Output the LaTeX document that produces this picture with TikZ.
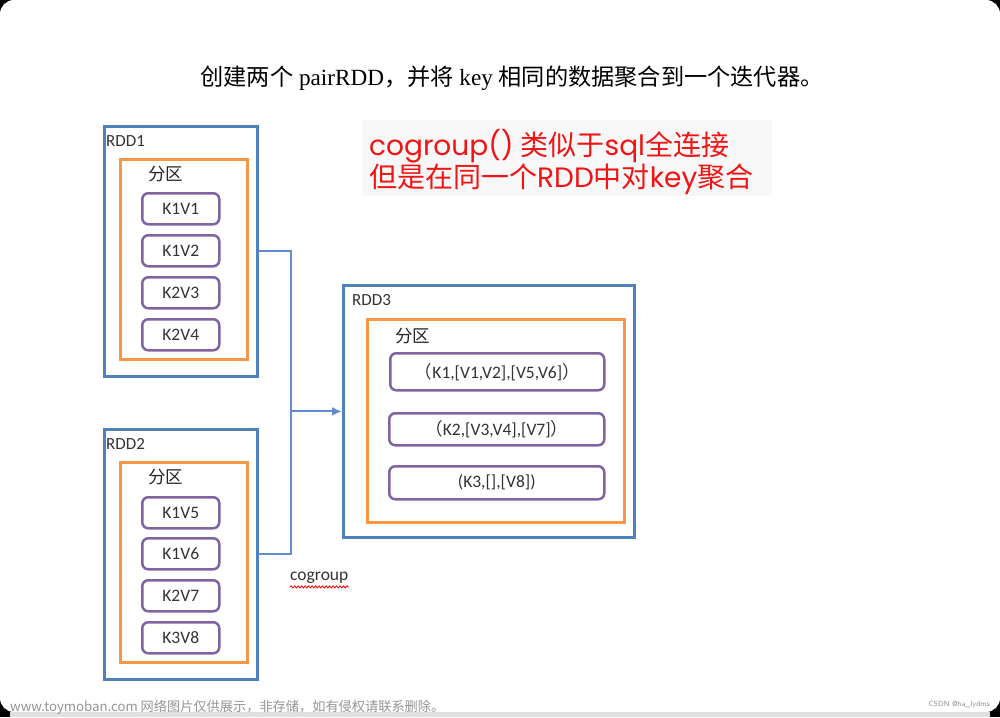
\documentclass[tikz,border=0pt]{standalone}
\usepackage{fontspec}
\setmainfont{Liberation Serif}
\newfontfamily\cjk{Noto Sans CJK SC}
\newfontfamily\calib{Carlito}
\newfontfamily\geo{Poppins}
\usetikzlibrary{arrows.meta,decorations.pathmorphing}
\definecolor{rddblue}{RGB}{79,129,189}
\definecolor{connblue}{RGB}{95,140,205}
\definecolor{partorange}{RGB}{247,150,70}
\definecolor{itempurple}{RGB}{128,100,162}
\definecolor{redtxt}{RGB}{240,20,20}
\definecolor{notebg}{RGB}{248,248,248}
\definecolor{wmgrey}{RGB}{150,150,150}
\tikzset{
  rddbox/.style={draw=rddblue, line width=2.8pt, anchor=north west, inner sep=0pt},
  partbox/.style={draw=partorange, line width=2.8pt, anchor=north west, inner sep=0pt},
  itembox/.style={draw=itempurple, line width=2.5pt, rounded corners=6pt, anchor=north west, inner sep=0pt, font=\calib\fontsize{17.5}{19}\selectfont, text=black!80},
  rddlabel/.style={anchor=north west, inner sep=0pt, font=\calib\fontsize{17}{19}\selectfont, text=black!80},
  partlabel/.style={anchor=north west, inner sep=0pt, font=\cjk\fontsize{17.5}{19}\selectfont, text=black!85},
  conn/.style={draw=connblue, line width=2pt},
}
\begin{document}
\begin{tikzpicture}[x=1pt,y=-1pt]
\useasboundingbox (0,0) rectangle (1000,717);
% frame
\fill[black] (0,0) rectangle (1000,717);
\fill[white, rounded corners=14pt] (0,0) rectangle (1000,712);
\fill[black!12] (10,712) rectangle (990,717);
% title
\node[font=\fontsize{23.2}{27}\selectfont] (title) at (512,78) {{\cjk 创建两个} pairRDD{\cjk ，并将} key {\cjk 相同的数据聚合到一个迭代器。}};
% red note
\fill[notebg] (362,120) rectangle (772,196);
\node[anchor=north west, inner sep=0pt, text=redtxt, font=\fontsize{28}{30}\selectfont, align=left] (note) at (369,129)
  {{\geo cogroup()} {\cjk 类似于}{\geo sql}{\cjk 全连接}\\{\cjk 但是在同一个}{\geo RDD}{\cjk 中对}{\geo key}{\cjk 聚合}};
% RDD1
\node[rddbox, minimum width=153pt, minimum height=250pt] (rdd1) at (103,125) {};
\node[rddlabel] (rdd1l) at (106,135) {RDD1};
\node[partbox, minimum width=127pt, minimum height=200pt] (p1) at (119,158) {};
\node[partlabel] (p1l) at (148,166) {分区};
\node[itembox, minimum width=77pt, minimum height=31pt] (a1) at (141,192) {K1V1};
\node[itembox, minimum width=77pt, minimum height=31pt] (a2) at (141,234) {K1V2};
\node[itembox, minimum width=77pt, minimum height=31pt] (a3) at (141,276) {K2V3};
\node[itembox, minimum width=77pt, minimum height=31pt] (a4) at (141,318) {K2V4};
% RDD2
\node[rddbox, minimum width=153pt, minimum height=250pt] (rdd2) at (103,428) {};
\node[rddlabel] (rdd2l) at (106,438) {RDD2};
\node[partbox, minimum width=127pt, minimum height=200pt] (p2) at (119,461) {};
\node[partlabel] (p2l) at (148,469) {分区};
\node[itembox, minimum width=77pt, minimum height=31pt] (b1) at (141,496) {K1V5};
\node[itembox, minimum width=77pt, minimum height=31pt] (b2) at (141,537) {K1V6};
\node[itembox, minimum width=77pt, minimum height=31pt] (b3) at (141,579) {K2V7};
\node[itembox, minimum width=77pt, minimum height=31pt] (b4) at (141,621) {K3V8};
% RDD3
\node[rddbox, minimum width=291pt, minimum height=252pt] (rdd3) at (342,284) {};
\node[rddlabel] (rdd3l) at (352,294) {RDD3};
\node[partbox, minimum width=257pt, minimum height=203pt] (p3) at (366,318) {};
\node[partlabel] (p3l) at (395,328) {分区};
\node[itembox, minimum width=214pt, minimum height=37pt] (c1) at (389,352) {{\cjk （}K1,[V1,V2],[V5,V6]{\cjk ）}};
\node[itembox, minimum width=215pt, minimum height=32pt] (c2) at (388,412) {{\cjk （}K2,[V3,V4],[V7]{\cjk ）}};
\node[itembox, minimum width=215pt, minimum height=33pt] (c3) at (388,465) {(K3,[],[V8])};
% connectors
\draw[conn] (rdd1.east) -- ++(32,0) |- (rdd2.east);
\coordinate (astart) at ([xshift=-51pt]rdd3.west);
\draw[conn, -{Latex[length=10pt,width=9pt]}] (astart) -- (rdd3.west);
% cogroup label
\node[anchor=north west, inner sep=0pt, font=\calib\fontsize{17.5}{19}\selectfont, text=black!80] (cg) at (290,572) {cogroup};
\draw[red, line width=0.8pt, decorate, decoration={snake, amplitude=1.1pt, segment length=3.5pt}] ([yshift=-3pt]cg.south west) -- ([yshift=-3pt]cg.south east);
% watermark
\node[anchor=west, inner sep=0pt, text=wmgrey, font=\cjk\fontsize{13.2}{15}\selectfont] (wm) at (10,707) {www.toymoban.com 网络图片仅供展示，非存储，如有侵权请联系删除。};
\node[anchor=east, inner sep=0pt, text=black!45, font=\fontsize{7.5}{9}\selectfont\sffamily] (csdn) at (990,705) {CSDN @ha\_lydms};
\end{tikzpicture}
\end{document}
